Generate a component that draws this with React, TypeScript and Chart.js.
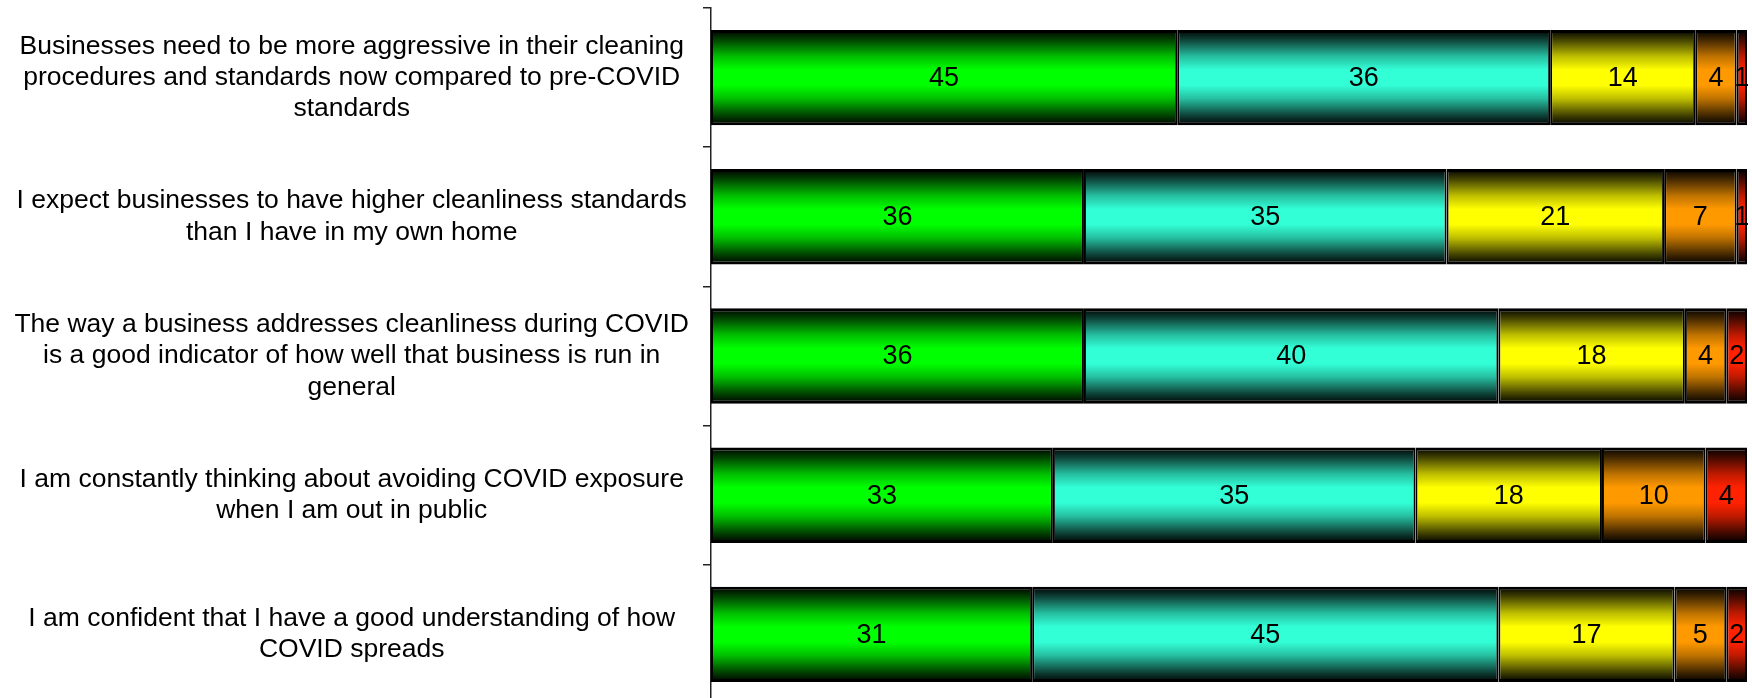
import React, { useEffect, useRef } from "react";
import { Chart, registerables } from "chart.js";

Chart.register(...registerables);

const categories: string[][] = [
  ["Businesses need to be more aggressive in their cleaning", "procedures and standards now compared to pre-COVID", "standards"],
  ["I expect businesses to have higher cleanliness standards", "than I have in my own home"],
  ["The way a business addresses cleanliness during COVID", "is a good indicator of how well that business is run in", "general"],
  ["I am constantly thinking about avoiding COVID exposure", "when I am out in public"],
  ["I am confident that I have a good understanding of how", "COVID spreads"],
];

const seriesNames = ["Strongly agree", "Somewhat agree", "Neutral", "Somewhat disagree", "Strongly disagree"];
const stronglyAgree = [45, 36, 36, 33, 31];
const somewhatAgree = [36, 35, 40, 35, 45];
const neutral = [14, 21, 18, 18, 17];
const somewhatDisagree = [4, 7, 4, 10, 5];
const stronglyDisagree = [1, 1, 2, 4, 2];
const baseColors = [
  [0, 255, 0],
  [51, 255, 214],
  [255, 255, 0],
  [255, 153, 0],
  [255, 34, 0],
];

const BAR_PCT = 0.685;

function shade(c: number[], f: number) {
  return `rgb(${Math.round(c[0] * f)},${Math.round(c[1] * f)},${Math.round(c[2] * f)})`;
}

function makeGradient(chart: any, index: number, color: number[]) {
  const yScale = chart.scales && chart.scales.y;
  if (!yScale || !chart.chartArea) return shade(color, 1);
  const center = yScale.getPixelForValue(index);
  const step = Math.abs(yScale.getPixelForValue(1) - yScale.getPixelForValue(0));
  const half = (step * BAR_PCT) / 2;
  const g = chart.ctx.createLinearGradient(0, center - half, 0, center + half);
  const stops: [number, number][] = [
    [0, 0.0],
    [0.1, 0.25],
    [0.28, 0.75],
    [0.42, 1],
    [0.58, 1],
    [0.72, 0.75],
    [0.9, 0.25],
    [1, 0.0],
  ];
  stops.forEach(([p, f]) => g.addColorStop(p, shade(color, f)));
  return g;
}

const valueLabels = {
  id: "valueLabels",
  afterDatasetsDraw(chart: any) {
    const ctx = chart.ctx;
    ctx.save();
    ctx.font = '27px "Liberation Sans", Arial, sans-serif';
    ctx.fillStyle = "#000";
    ctx.textAlign = "center";
    ctx.textBaseline = "middle";
    chart.data.datasets.forEach((ds: any, di: number) => {
      const meta = chart.getDatasetMeta(di);
      meta.data.forEach((el: any, i: number) => {
        const v = ds.data[i];
        const x = (el.x + el.base) / 2;
        ctx.fillText(String(v), x, el.y + 1);
      });
    });
    ctx.restore();
  },
};

export default function App() {
  const ref = useRef<HTMLCanvasElement | null>(null);
  useEffect(() => {
    if (!ref.current) return;
    const allSeries = [stronglyAgree, somewhatAgree, neutral, somewhatDisagree, stronglyDisagree];
    const chart = new Chart(ref.current, {
      type: "bar",
      data: {
        labels: categories as any,
        datasets: allSeries.map((d, si) => ({
          label: seriesNames[si],
          data: d,
          backgroundColor: (c: any) => makeGradient(c.chart, c.dataIndex, baseColors[si]),
          borderColor: "#000",
          borderWidth: { top: 3, bottom: 3, left: 2, right: 2 },
          borderSkipped: false,
          barPercentage: BAR_PCT,
          categoryPercentage: 1,
        })),
      },
      options: {
        indexAxis: "y",
        responsive: false,
        animation: false,
        maintainAspectRatio: false,
        layout: { padding: { top: 8, right: 5, bottom: 0, left: 0 } },
        plugins: { legend: { display: false }, tooltip: { enabled: false } },
        scales: {
          x: { display: false, stacked: true, min: 0, max: 100 },
          y: {
            stacked: true,
            afterFit: (s: any) => {
              s.width = 711;
              s.paddingTop = 0;
              s.paddingBottom = 0;
            },
            border: { display: true, color: "#222", width: 1.5 },
            grid: {
              offset: true,
              drawOnChartArea: false,
              drawTicks: true,
              tickLength: 8,
              color: "#222",
              lineWidth: 1.5,
            },
            ticks: {
              crossAlign: "center",
              padding: 14,
              color: "#000",
              font: { family: '"Liberation Sans", Arial, sans-serif', size: 26.5, lineHeight: 1.18 },
            },
          },
        },
      },
      plugins: [valueLabels],
    });
    return () => chart.destroy();
  }, []);
  return (
    <div style={{ position: "absolute", left: 0, top: 0, width: 1752, height: 704, background: "#fff" }}>
      <canvas ref={ref} width={1752} height={704} style={{ width: 1752, height: 704, display: "block" }} />
    </div>
  );
}
